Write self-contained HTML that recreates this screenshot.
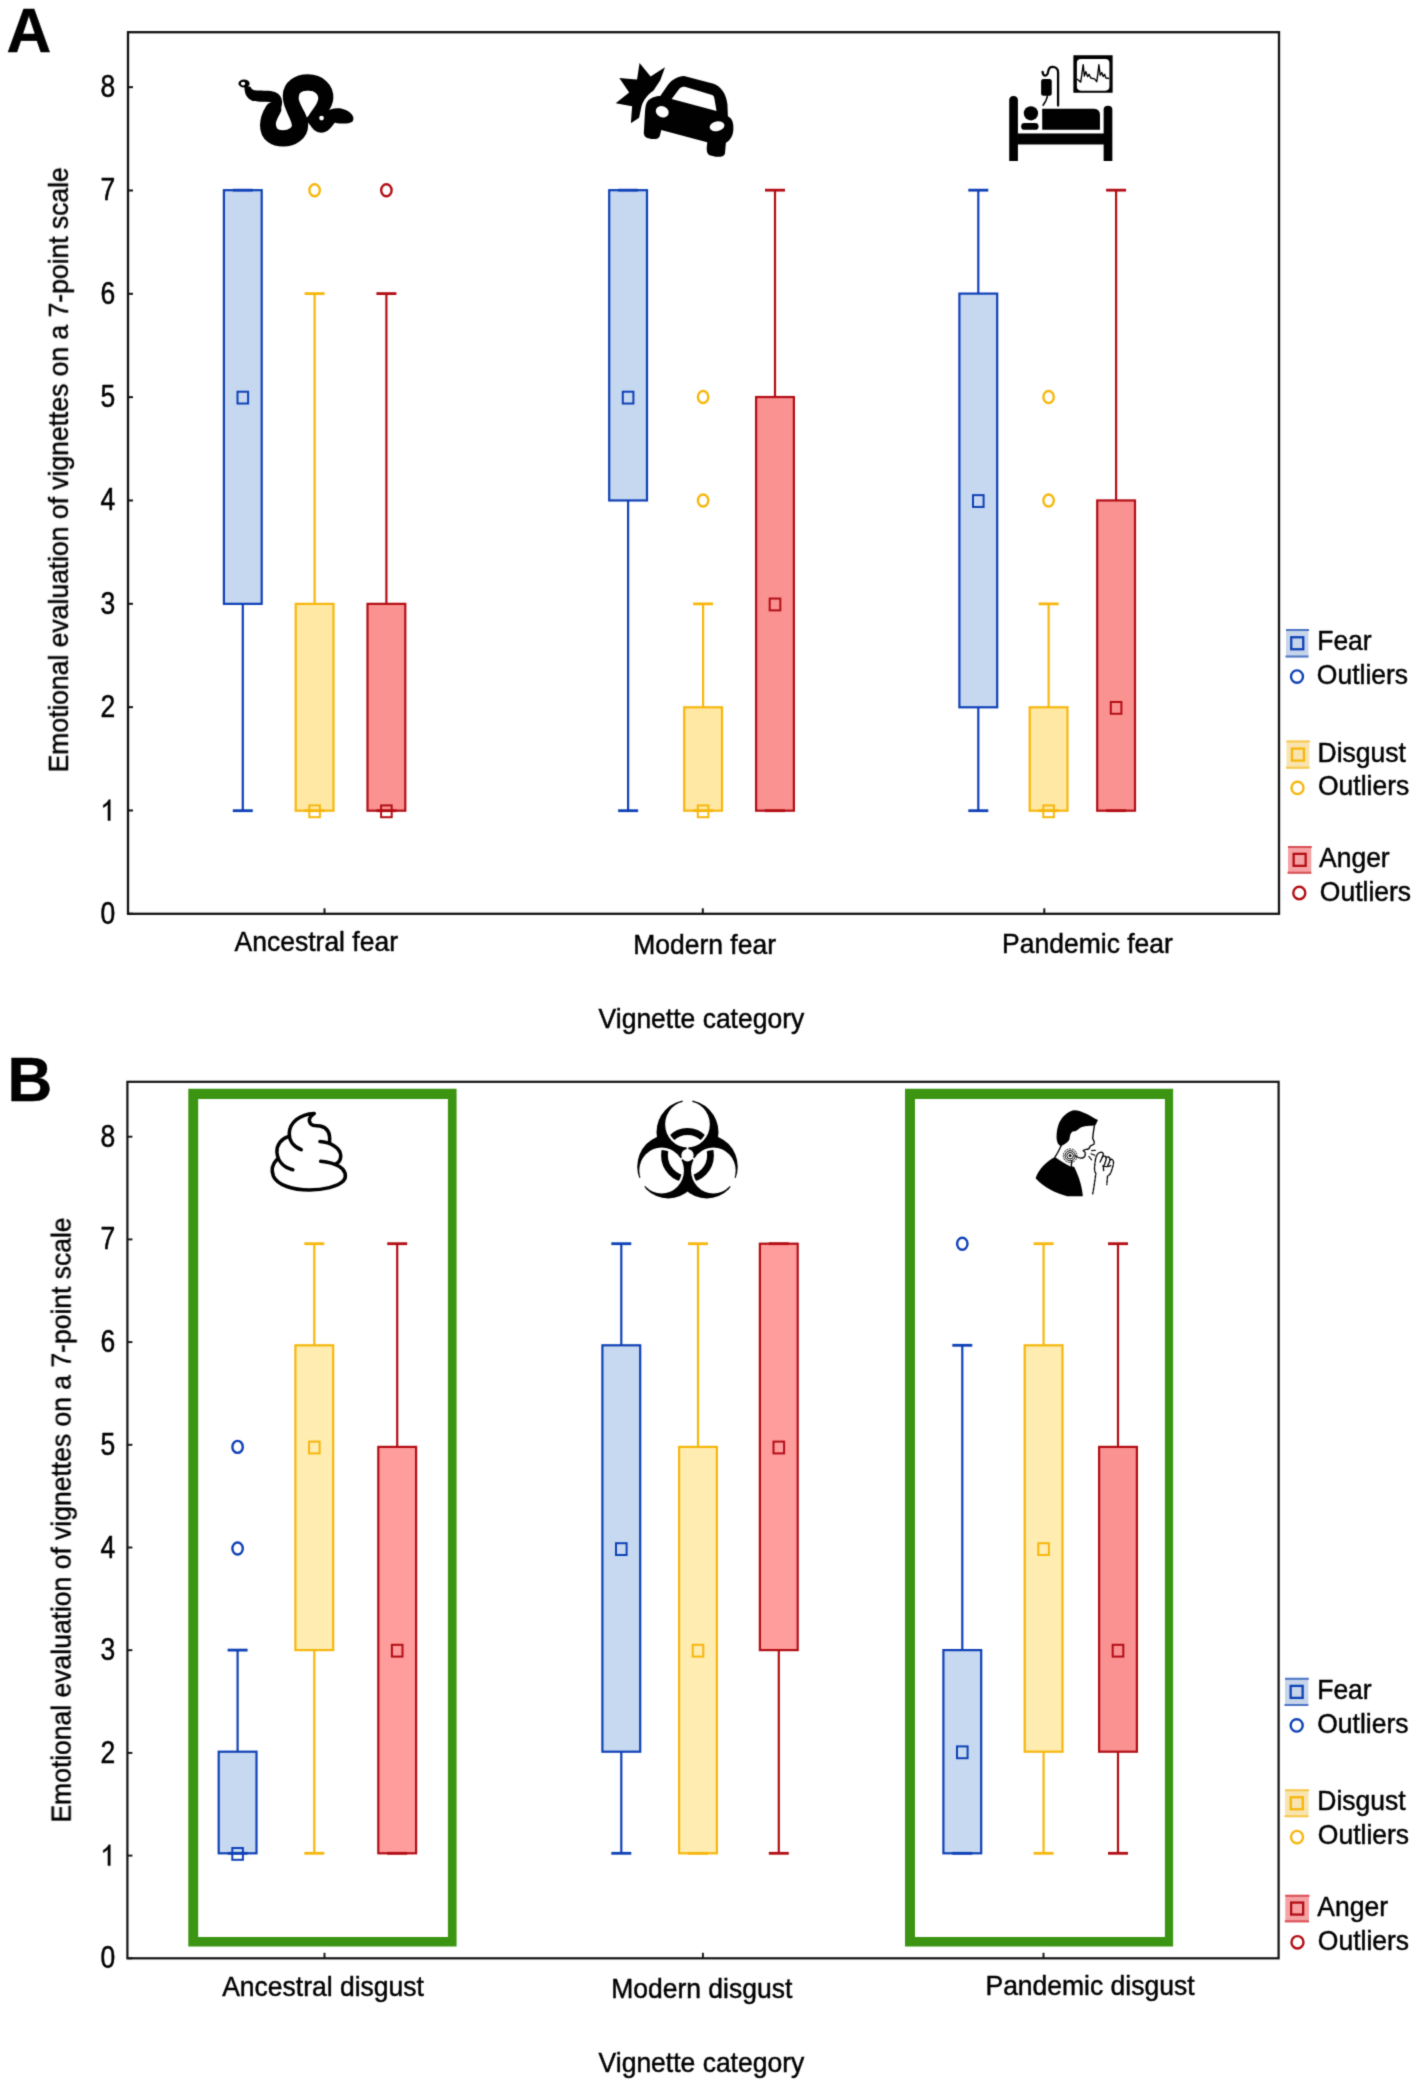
<!DOCTYPE html><html><head><meta charset="utf-8"><style>html,body{margin:0;padding:0;background:#fff;}svg{display:block;opacity:0.999;}text{stroke:#000;stroke-width:0.45px;}</style></head><body>
<svg width="1418" height="2086" viewBox="0 0 1418 2086" font-family="'Liberation Sans', sans-serif" font-size="26.5" fill="#000">
<defs><filter id="soft" x="0" y="0" width="1418" height="2086" filterUnits="userSpaceOnUse" color-interpolation-filters="sRGB"><feConvolveMatrix order="3" kernelMatrix="0.025 0.1 0.025 0.1 0.5 0.1 0.025 0.1 0.025" divisor="1" edgeMode="duplicate"/></filter></defs>
<rect width="1418" height="2086" fill="#fff"/>
<g filter="url(#soft)">
<text transform="translate(6.4,51.6) scale(1,1.025)" font-weight="bold" font-size="62">A</text>
<rect x="128" y="32.2" width="1151" height="881.6" fill="none" stroke="#111" stroke-width="2.3"/>
<line x1="128" y1="913.8" x2="133" y2="913.8" stroke="#111" stroke-width="2"/>
<text transform="translate(115.3,923.8) scale(1,1.15)" text-anchor="end">0</text>
<line x1="128" y1="810.47" x2="133" y2="810.47" stroke="#111" stroke-width="2"/>
<path transform="translate(100.4,820.47) scale(0.01294,-0.0142)" stroke="#000" stroke-width="0.45" vector-effect="non-scaling-stroke" d="M763 0L583 0L583 1147C518 1085 432 1025 337 969C290 941 250 921 223 910L223 1084C320 1130 410 1190 480 1255C560 1330 615 1400 644 1466L763 1466Z"/>
<line x1="128" y1="707.14" x2="133" y2="707.14" stroke="#111" stroke-width="2"/>
<text transform="translate(115.3,717.14) scale(1,1.15)" text-anchor="end">2</text>
<line x1="128" y1="603.81" x2="133" y2="603.81" stroke="#111" stroke-width="2"/>
<text transform="translate(115.3,613.81) scale(1,1.15)" text-anchor="end">3</text>
<line x1="128" y1="500.48" x2="133" y2="500.48" stroke="#111" stroke-width="2"/>
<text transform="translate(115.3,510.48) scale(1,1.15)" text-anchor="end">4</text>
<line x1="128" y1="397.15" x2="133" y2="397.15" stroke="#111" stroke-width="2"/>
<text transform="translate(115.3,407.15) scale(1,1.15)" text-anchor="end">5</text>
<line x1="128" y1="293.82" x2="133" y2="293.82" stroke="#111" stroke-width="2"/>
<text transform="translate(115.3,303.82) scale(1,1.15)" text-anchor="end">6</text>
<line x1="128" y1="190.49" x2="133" y2="190.49" stroke="#111" stroke-width="2"/>
<text transform="translate(115.3,200.49) scale(1,1.15)" text-anchor="end">7</text>
<line x1="128" y1="87.16" x2="133" y2="87.16" stroke="#111" stroke-width="2"/>
<text transform="translate(115.3,97.16) scale(1,1.15)" text-anchor="end">8</text>
<line x1="324.5" y1="913.8" x2="324.5" y2="908.3" stroke="#111" stroke-width="2"/>
<line x1="702.8" y1="913.8" x2="702.8" y2="908.3" stroke="#111" stroke-width="2"/>
<line x1="1044.3" y1="913.8" x2="1044.3" y2="908.3" stroke="#111" stroke-width="2"/>
<text transform="translate(316.3,950.9) scale(1,1.05)" text-anchor="middle">Ancestral fear</text>
<text transform="translate(704.6,953.7) scale(1,1.05)" text-anchor="middle">Modern fear</text>
<text transform="translate(1087.5,952.8) scale(1,1.05)" text-anchor="middle">Pandemic fear</text>
<text transform="translate(701.4,1028.4) scale(1,1.05)" text-anchor="middle">Vignette category</text>
<text transform="translate(68.2,469.8) rotate(-90) scale(1,1.05)" text-anchor="middle">Emotional evaluation of vignettes on a 7-point scale</text>
<line x1="242.8" y1="603.86" x2="242.8" y2="810.7" stroke="#0e40b6" stroke-width="2.2"/>
<rect x="223.9" y="190.18" width="37.8" height="413.68" fill="#c6d8f0" stroke="#0e40b6" stroke-width="2.2"/>
<line x1="232.8" y1="190.18" x2="252.8" y2="190.18" stroke="#0e40b6" stroke-width="2.8"/>
<line x1="232.8" y1="810.7" x2="252.8" y2="810.7" stroke="#0e40b6" stroke-width="2.8"/>
<rect x="237.5" y="391.72" width="10.6" height="11.8" fill="none" stroke="#0e40b6" stroke-width="2"/>
<line x1="314.6" y1="603.86" x2="314.6" y2="293.6" stroke="#f6b60c" stroke-width="2.2"/>
<rect x="295.7" y="603.86" width="37.8" height="206.84" fill="#ffe8a3" stroke="#f6b60c" stroke-width="2.2"/>
<line x1="304.6" y1="293.6" x2="324.6" y2="293.6" stroke="#f6b60c" stroke-width="2.8"/>
<line x1="304.6" y1="810.7" x2="324.6" y2="810.7" stroke="#f6b60c" stroke-width="2.8"/>
<rect x="309.3" y="805.4" width="10.6" height="11.8" fill="none" stroke="#f6b60c" stroke-width="2"/>
<ellipse cx="314.6" cy="190.18" rx="5.2" ry="6" fill="none" stroke="#f6b60c" stroke-width="2.4"/>
<line x1="386.4" y1="603.86" x2="386.4" y2="293.6" stroke="#b20d14" stroke-width="2.2"/>
<rect x="367.5" y="603.86" width="37.8" height="206.84" fill="#fa9292" stroke="#b20d14" stroke-width="2.2"/>
<line x1="376.4" y1="293.6" x2="396.4" y2="293.6" stroke="#b20d14" stroke-width="2.8"/>
<line x1="376.4" y1="810.7" x2="396.4" y2="810.7" stroke="#b20d14" stroke-width="2.8"/>
<rect x="381.1" y="805.4" width="10.6" height="11.8" fill="none" stroke="#b20d14" stroke-width="2"/>
<ellipse cx="386.4" cy="190.18" rx="5.2" ry="6" fill="none" stroke="#b20d14" stroke-width="2.4"/>
<line x1="628.1" y1="500.44" x2="628.1" y2="810.7" stroke="#0e40b6" stroke-width="2.2"/>
<rect x="609.2" y="190.18" width="37.8" height="310.26" fill="#c6d8f0" stroke="#0e40b6" stroke-width="2.2"/>
<line x1="618.1" y1="190.18" x2="638.1" y2="190.18" stroke="#0e40b6" stroke-width="2.8"/>
<line x1="618.1" y1="810.7" x2="638.1" y2="810.7" stroke="#0e40b6" stroke-width="2.8"/>
<rect x="622.8" y="391.72" width="10.6" height="11.8" fill="none" stroke="#0e40b6" stroke-width="2"/>
<line x1="703.1" y1="707.28" x2="703.1" y2="603.86" stroke="#f6b60c" stroke-width="2.2"/>
<rect x="684.2" y="707.28" width="37.8" height="103.42" fill="#ffe8a3" stroke="#f6b60c" stroke-width="2.2"/>
<line x1="693.1" y1="603.86" x2="713.1" y2="603.86" stroke="#f6b60c" stroke-width="2.8"/>
<line x1="693.1" y1="810.7" x2="713.1" y2="810.7" stroke="#f6b60c" stroke-width="2.8"/>
<rect x="697.8" y="805.4" width="10.6" height="11.8" fill="none" stroke="#f6b60c" stroke-width="2"/>
<ellipse cx="703.1" cy="500.44" rx="5.2" ry="6" fill="none" stroke="#f6b60c" stroke-width="2.4"/>
<ellipse cx="703.1" cy="397.02" rx="5.2" ry="6" fill="none" stroke="#f6b60c" stroke-width="2.4"/>
<line x1="775" y1="397.02" x2="775" y2="190.18" stroke="#b20d14" stroke-width="2.2"/>
<rect x="756.1" y="397.02" width="37.8" height="413.68" fill="#fa9292" stroke="#b20d14" stroke-width="2.2"/>
<line x1="765" y1="190.18" x2="785" y2="190.18" stroke="#b20d14" stroke-width="2.8"/>
<line x1="765" y1="810.7" x2="785" y2="810.7" stroke="#b20d14" stroke-width="2.8"/>
<rect x="769.7" y="598.56" width="10.6" height="11.8" fill="none" stroke="#b20d14" stroke-width="2"/>
<line x1="978.3" y1="293.6" x2="978.3" y2="190.18" stroke="#0e40b6" stroke-width="2.2"/>
<line x1="978.3" y1="707.28" x2="978.3" y2="810.7" stroke="#0e40b6" stroke-width="2.2"/>
<rect x="959.4" y="293.6" width="37.8" height="413.68" fill="#c6d8f0" stroke="#0e40b6" stroke-width="2.2"/>
<line x1="968.3" y1="190.18" x2="988.3" y2="190.18" stroke="#0e40b6" stroke-width="2.8"/>
<line x1="968.3" y1="810.7" x2="988.3" y2="810.7" stroke="#0e40b6" stroke-width="2.8"/>
<rect x="973" y="495.14" width="10.6" height="11.8" fill="none" stroke="#0e40b6" stroke-width="2"/>
<line x1="1048.6" y1="707.28" x2="1048.6" y2="603.86" stroke="#f6b60c" stroke-width="2.2"/>
<rect x="1029.7" y="707.28" width="37.8" height="103.42" fill="#ffe8a3" stroke="#f6b60c" stroke-width="2.2"/>
<line x1="1038.6" y1="603.86" x2="1058.6" y2="603.86" stroke="#f6b60c" stroke-width="2.8"/>
<line x1="1038.6" y1="810.7" x2="1058.6" y2="810.7" stroke="#f6b60c" stroke-width="2.8"/>
<rect x="1043.3" y="805.4" width="10.6" height="11.8" fill="none" stroke="#f6b60c" stroke-width="2"/>
<ellipse cx="1048.6" cy="500.44" rx="5.2" ry="6" fill="none" stroke="#f6b60c" stroke-width="2.4"/>
<ellipse cx="1048.6" cy="397.02" rx="5.2" ry="6" fill="none" stroke="#f6b60c" stroke-width="2.4"/>
<line x1="1116.1" y1="500.44" x2="1116.1" y2="190.18" stroke="#b20d14" stroke-width="2.2"/>
<rect x="1097.2" y="500.44" width="37.8" height="310.26" fill="#fa9292" stroke="#b20d14" stroke-width="2.2"/>
<line x1="1106.1" y1="190.18" x2="1126.1" y2="190.18" stroke="#b20d14" stroke-width="2.8"/>
<line x1="1106.1" y1="810.7" x2="1126.1" y2="810.7" stroke="#b20d14" stroke-width="2.8"/>
<rect x="1110.8" y="701.98" width="10.6" height="11.8" fill="none" stroke="#b20d14" stroke-width="2"/>
<rect x="1286" y="629" width="22.5" height="28.5" fill="#c7d5ea"/>
<line x1="1286" y1="630" x2="1309" y2="630" stroke="#4c74c4" stroke-width="2"/>
<line x1="1285.5" y1="656.5" x2="1308.5" y2="656.5" stroke="#4c74c4" stroke-width="2"/>
<rect x="1291.25" y="637.25" width="12" height="12" fill="none" stroke="#0e40b6" stroke-width="2.3"/>
<text transform="translate(1317.2,650.4) scale(1,1.05)">Fear</text>
<ellipse cx="1297" cy="676.6" rx="6" ry="6.2" fill="none" stroke="#0e40b6" stroke-width="2.4"/>
<text transform="translate(1316.8,683.8) scale(1,1.05)">Outliers</text>
<rect x="1286.5" y="740.5" width="22.9" height="28.2" fill="#f8e4b0"/>
<line x1="1286.5" y1="741.5" x2="1309.9" y2="741.5" stroke="#f6c84a" stroke-width="2"/>
<line x1="1286" y1="767.7" x2="1309.4" y2="767.7" stroke="#f6c84a" stroke-width="2"/>
<rect x="1291.95" y="748.6" width="12" height="12" fill="none" stroke="#f6b60c" stroke-width="2.3"/>
<text transform="translate(1317.6,761.9) scale(1,1.05)">Disgust</text>
<ellipse cx="1297.5" cy="787.9" rx="6" ry="6.2" fill="none" stroke="#f6b60c" stroke-width="2.4"/>
<text transform="translate(1318,795) scale(1,1.05)">Outliers</text>
<rect x="1288" y="846" width="23.3" height="27.7" fill="#f5a2a4"/>
<line x1="1288" y1="847" x2="1311.8" y2="847" stroke="#d85055" stroke-width="2"/>
<line x1="1287.5" y1="872.7" x2="1311.3" y2="872.7" stroke="#d85055" stroke-width="2"/>
<rect x="1293.65" y="853.85" width="12" height="12" fill="none" stroke="#b20d14" stroke-width="2.3"/>
<text transform="translate(1319,866.8) scale(1,1.05)">Anger</text>
<ellipse cx="1299.3" cy="893" rx="6" ry="6.2" fill="none" stroke="#b20d14" stroke-width="2.4"/>
<text transform="translate(1319.8,900.5) scale(1,1.05)">Outliers</text>
<text transform="translate(7.6,1100.7) scale(1,1.025)" font-weight="bold" font-size="62">B</text>
<rect x="127.4" y="1081.8" width="1151.2" height="876.5" fill="none" stroke="#111" stroke-width="2.2"/>
<line x1="127.4" y1="1958.3" x2="132.4" y2="1958.3" stroke="#111" stroke-width="1.9"/>
<text transform="translate(115.3,1968.3) scale(1,1.15)" text-anchor="end">0</text>
<line x1="127.4" y1="1855.6" x2="132.4" y2="1855.6" stroke="#111" stroke-width="1.9"/>
<path transform="translate(100.4,1865.6) scale(0.01294,-0.0142)" stroke="#000" stroke-width="0.45" vector-effect="non-scaling-stroke" d="M763 0L583 0L583 1147C518 1085 432 1025 337 969C290 941 250 921 223 910L223 1084C320 1130 410 1190 480 1255C560 1330 615 1400 644 1466L763 1466Z"/>
<line x1="127.4" y1="1752.9" x2="132.4" y2="1752.9" stroke="#111" stroke-width="1.9"/>
<text transform="translate(115.3,1762.9) scale(1,1.15)" text-anchor="end">2</text>
<line x1="127.4" y1="1650.2" x2="132.4" y2="1650.2" stroke="#111" stroke-width="1.9"/>
<text transform="translate(115.3,1660.2) scale(1,1.15)" text-anchor="end">3</text>
<line x1="127.4" y1="1547.5" x2="132.4" y2="1547.5" stroke="#111" stroke-width="1.9"/>
<text transform="translate(115.3,1557.5) scale(1,1.15)" text-anchor="end">4</text>
<line x1="127.4" y1="1444.8" x2="132.4" y2="1444.8" stroke="#111" stroke-width="1.9"/>
<text transform="translate(115.3,1454.8) scale(1,1.15)" text-anchor="end">5</text>
<line x1="127.4" y1="1342.1" x2="132.4" y2="1342.1" stroke="#111" stroke-width="1.9"/>
<text transform="translate(115.3,1352.1) scale(1,1.15)" text-anchor="end">6</text>
<line x1="127.4" y1="1239.4" x2="132.4" y2="1239.4" stroke="#111" stroke-width="1.9"/>
<text transform="translate(115.3,1249.4) scale(1,1.15)" text-anchor="end">7</text>
<line x1="127.4" y1="1136.7" x2="132.4" y2="1136.7" stroke="#111" stroke-width="1.9"/>
<text transform="translate(115.3,1146.7) scale(1,1.15)" text-anchor="end">8</text>
<line x1="324.5" y1="1958.3" x2="324.5" y2="1952.8" stroke="#111" stroke-width="1.9"/>
<line x1="702.9" y1="1958.3" x2="702.9" y2="1952.8" stroke="#111" stroke-width="1.9"/>
<line x1="1043.5" y1="1958.3" x2="1043.5" y2="1952.8" stroke="#111" stroke-width="1.9"/>
<text transform="translate(323,1996.3) scale(1,1.05)" text-anchor="middle">Ancestral disgust</text>
<text transform="translate(701.7,1997.6) scale(1,1.05)" text-anchor="middle">Modern disgust</text>
<text transform="translate(1090,1995.2) scale(1,1.05)" text-anchor="middle">Pandemic disgust</text>
<text transform="translate(701.4,2072.2) scale(1,1.05)" text-anchor="middle">Vignette category</text>
<text transform="translate(70.9,1520) rotate(-90) scale(1,1.05)" text-anchor="middle">Emotional evaluation of vignettes on a 7-point scale</text>
<path d="M188.3 1088.8H456.6V1946.6H188.3ZM198.2 1098.9V1937H447.9V1098.9Z" fill="#3b9512" fill-rule="evenodd"/>
<path d="M905 1088.8H1173.1V1946.6H905ZM915 1098.9V1937H1164.9V1098.9Z" fill="#3b9512" fill-rule="evenodd"/>
<line x1="237.6" y1="1751.7" x2="237.6" y2="1650.1" stroke="#0e40b6" stroke-width="2.2"/>
<rect x="218.7" y="1751.7" width="37.8" height="101.6" fill="#c6d9f0" stroke="#0e40b6" stroke-width="2.2"/>
<line x1="227.6" y1="1650.1" x2="247.6" y2="1650.1" stroke="#0e40b6" stroke-width="2.8"/>
<line x1="227.6" y1="1853.3" x2="247.6" y2="1853.3" stroke="#0e40b6" stroke-width="2.8"/>
<rect x="232.3" y="1848" width="10.6" height="11.8" fill="none" stroke="#0e40b6" stroke-width="2"/>
<ellipse cx="237.6" cy="1548.5" rx="5.2" ry="6" fill="none" stroke="#0e40b6" stroke-width="2.4"/>
<ellipse cx="237.6" cy="1446.9" rx="5.2" ry="6" fill="none" stroke="#0e40b6" stroke-width="2.4"/>
<line x1="314.3" y1="1345.3" x2="314.3" y2="1243.7" stroke="#f6b60c" stroke-width="2.2"/>
<line x1="314.3" y1="1650.1" x2="314.3" y2="1853.3" stroke="#f6b60c" stroke-width="2.2"/>
<rect x="295.4" y="1345.3" width="37.8" height="304.8" fill="#feecb0" stroke="#f6b60c" stroke-width="2.2"/>
<line x1="304.3" y1="1243.7" x2="324.3" y2="1243.7" stroke="#f6b60c" stroke-width="2.8"/>
<line x1="304.3" y1="1853.3" x2="324.3" y2="1853.3" stroke="#f6b60c" stroke-width="2.8"/>
<rect x="309" y="1441.6" width="10.6" height="11.8" fill="none" stroke="#f6b60c" stroke-width="2"/>
<line x1="397.2" y1="1446.9" x2="397.2" y2="1243.7" stroke="#b20d14" stroke-width="2.2"/>
<rect x="378.3" y="1446.9" width="37.8" height="406.4" fill="#ff9c9c" stroke="#b20d14" stroke-width="2.2"/>
<line x1="387.2" y1="1243.7" x2="407.2" y2="1243.7" stroke="#b20d14" stroke-width="2.8"/>
<line x1="387.2" y1="1853.3" x2="407.2" y2="1853.3" stroke="#b20d14" stroke-width="2.8"/>
<rect x="391.9" y="1644.8" width="10.6" height="11.8" fill="none" stroke="#b20d14" stroke-width="2"/>
<line x1="621.3" y1="1345.3" x2="621.3" y2="1243.7" stroke="#0e40b6" stroke-width="2.2"/>
<line x1="621.3" y1="1751.7" x2="621.3" y2="1853.3" stroke="#0e40b6" stroke-width="2.2"/>
<rect x="602.4" y="1345.3" width="37.8" height="406.4" fill="#c6d9f0" stroke="#0e40b6" stroke-width="2.2"/>
<line x1="611.3" y1="1243.7" x2="631.3" y2="1243.7" stroke="#0e40b6" stroke-width="2.8"/>
<line x1="611.3" y1="1853.3" x2="631.3" y2="1853.3" stroke="#0e40b6" stroke-width="2.8"/>
<rect x="616" y="1543.2" width="10.6" height="11.8" fill="none" stroke="#0e40b6" stroke-width="2"/>
<line x1="698" y1="1446.9" x2="698" y2="1243.7" stroke="#f6b60c" stroke-width="2.2"/>
<rect x="679.1" y="1446.9" width="37.8" height="406.4" fill="#feecb0" stroke="#f6b60c" stroke-width="2.2"/>
<line x1="688" y1="1243.7" x2="708" y2="1243.7" stroke="#f6b60c" stroke-width="2.8"/>
<line x1="688" y1="1853.3" x2="708" y2="1853.3" stroke="#f6b60c" stroke-width="2.8"/>
<rect x="692.7" y="1644.8" width="10.6" height="11.8" fill="none" stroke="#f6b60c" stroke-width="2"/>
<line x1="778.8" y1="1650.1" x2="778.8" y2="1853.3" stroke="#b20d14" stroke-width="2.2"/>
<rect x="759.9" y="1243.7" width="37.8" height="406.4" fill="#ff9c9c" stroke="#b20d14" stroke-width="2.2"/>
<line x1="768.8" y1="1243.7" x2="788.8" y2="1243.7" stroke="#b20d14" stroke-width="2.8"/>
<line x1="768.8" y1="1853.3" x2="788.8" y2="1853.3" stroke="#b20d14" stroke-width="2.8"/>
<rect x="773.5" y="1441.6" width="10.6" height="11.8" fill="none" stroke="#b20d14" stroke-width="2"/>
<line x1="962.3" y1="1650.1" x2="962.3" y2="1345.3" stroke="#0e40b6" stroke-width="2.2"/>
<rect x="943.4" y="1650.1" width="37.8" height="203.2" fill="#c6d9f0" stroke="#0e40b6" stroke-width="2.2"/>
<line x1="952.3" y1="1345.3" x2="972.3" y2="1345.3" stroke="#0e40b6" stroke-width="2.8"/>
<line x1="952.3" y1="1853.3" x2="972.3" y2="1853.3" stroke="#0e40b6" stroke-width="2.8"/>
<rect x="957" y="1746.4" width="10.6" height="11.8" fill="none" stroke="#0e40b6" stroke-width="2"/>
<ellipse cx="962.3" cy="1243.7" rx="5.2" ry="6" fill="none" stroke="#0e40b6" stroke-width="2.4"/>
<line x1="1043.6" y1="1345.3" x2="1043.6" y2="1243.7" stroke="#f6b60c" stroke-width="2.2"/>
<line x1="1043.6" y1="1751.7" x2="1043.6" y2="1853.3" stroke="#f6b60c" stroke-width="2.2"/>
<rect x="1024.7" y="1345.3" width="37.8" height="406.4" fill="#feecb0" stroke="#f6b60c" stroke-width="2.2"/>
<line x1="1033.6" y1="1243.7" x2="1053.6" y2="1243.7" stroke="#f6b60c" stroke-width="2.8"/>
<line x1="1033.6" y1="1853.3" x2="1053.6" y2="1853.3" stroke="#f6b60c" stroke-width="2.8"/>
<rect x="1038.3" y="1543.2" width="10.6" height="11.8" fill="none" stroke="#f6b60c" stroke-width="2"/>
<line x1="1118" y1="1446.9" x2="1118" y2="1243.7" stroke="#b20d14" stroke-width="2.2"/>
<line x1="1118" y1="1751.7" x2="1118" y2="1853.3" stroke="#b20d14" stroke-width="2.2"/>
<rect x="1099.1" y="1446.9" width="37.8" height="304.8" fill="#fa9292" stroke="#b20d14" stroke-width="2.2"/>
<line x1="1108" y1="1243.7" x2="1128" y2="1243.7" stroke="#b20d14" stroke-width="2.8"/>
<line x1="1108" y1="1853.3" x2="1128" y2="1853.3" stroke="#b20d14" stroke-width="2.8"/>
<rect x="1112.7" y="1644.8" width="10.6" height="11.8" fill="none" stroke="#b20d14" stroke-width="2"/>
<rect x="1285" y="1677.8" width="23.3" height="28.2" fill="#c7d5ea"/>
<line x1="1285" y1="1678.8" x2="1308.8" y2="1678.8" stroke="#4c74c4" stroke-width="2"/>
<line x1="1284.5" y1="1705" x2="1308.3" y2="1705" stroke="#4c74c4" stroke-width="2"/>
<rect x="1290.65" y="1685.9" width="12" height="12" fill="none" stroke="#0e40b6" stroke-width="2.3"/>
<text transform="translate(1317.2,1699.4) scale(1,1.05)">Fear</text>
<ellipse cx="1296.7" cy="1725.4" rx="6" ry="6.2" fill="none" stroke="#0e40b6" stroke-width="2.4"/>
<text transform="translate(1317.2,1732.5) scale(1,1.05)">Outliers</text>
<rect x="1285" y="1789.3" width="23.6" height="27.9" fill="#f8e4b0"/>
<line x1="1285" y1="1790.3" x2="1309.1" y2="1790.3" stroke="#f6c84a" stroke-width="2"/>
<line x1="1284.5" y1="1816.2" x2="1308.6" y2="1816.2" stroke="#f6c84a" stroke-width="2"/>
<rect x="1290.8" y="1797.25" width="12" height="12" fill="none" stroke="#f6b60c" stroke-width="2.3"/>
<text transform="translate(1317.3,1810.4) scale(1,1.05)">Disgust</text>
<ellipse cx="1297" cy="1837.1" rx="6" ry="6.2" fill="none" stroke="#f6b60c" stroke-width="2.4"/>
<text transform="translate(1317.8,1843.8) scale(1,1.05)">Outliers</text>
<rect x="1285.3" y="1894.8" width="23.7" height="27.5" fill="#f5a2a4"/>
<line x1="1285.3" y1="1895.8" x2="1309.5" y2="1895.8" stroke="#d85055" stroke-width="2"/>
<line x1="1284.8" y1="1921.3" x2="1309" y2="1921.3" stroke="#d85055" stroke-width="2"/>
<rect x="1291.15" y="1902.55" width="12" height="12" fill="none" stroke="#b20d14" stroke-width="2.3"/>
<text transform="translate(1317.3,1915.6) scale(1,1.05)">Anger</text>
<ellipse cx="1297.5" cy="1942.3" rx="6" ry="6.2" fill="none" stroke="#b20d14" stroke-width="2.4"/>
<text transform="translate(1317.8,1949.7) scale(1,1.05)">Outliers</text>
<g id="snake" transform="translate(225,60) scale(0.098717)" fill="none" stroke="#000" stroke-linecap="round" stroke-linejoin="round">
<path fill-rule="evenodd" fill="#000" stroke="none" d="M136 238 A57 41 0 1 0 250 238 A57 41 0 1 0 136 238 Z M161 239 A22 19 0 1 0 205 239 A22 19 0 1 0 161 239 Z"/>
<path d="M198 262 C193 330 215 390 280 415 C330 425 400 422 470 422 L470 315 C400 312 350 308 330 310 C290 312 265 298 258 272 Z" fill="#000" stroke="none"/>
<path d="M440 368 C500 368 528 390 524 440 C520 490 480 540 460 590" stroke-width="108"/>
<path d="M490 505 C455 560 437 600 437 660 C437 760 510 795 590 795 C680 795 760 740 760 660 C755 590 720 540 705 500 C690 460 665 420 668 360 C670 280 740 228 840 228 C950 228 1020 300 1015 385 C1010 470 930 520 910 590" stroke-width="165"/>
<circle cx="668" cy="362" r="82" fill="#000" stroke="none"/>
<path d="M905 580 C895 660 960 705 1010 672 C1050 645 1060 600 1100 578" stroke-width="105"/>
<path d="M1010 540 C1060 490 1150 470 1230 510 C1290 540 1320 590 1290 625 C1250 650 1150 650 1080 625 Z" fill="#000" stroke="none"/>
<circle cx="985" cy="590" r="62" fill="#000" stroke="none"/>
<g fill="#fff" stroke="none">
<path d="M586 486 C570 520 540 570 522 615 C508 650 515 690 560 697 C610 703 660 685 660 645 C660 610 625 540 586 486 Z"/>
<path d="M836 580 C810 530 760 450 748 400 C738 350 780 312 840 311 C905 310 945 345 945 385 C945 440 880 510 836 580 Z"/>
<circle cx="978" cy="588" r="24"/>
</g>
</g>
<g id="car" transform="translate(605,55) scale(0.098717)" fill="#000">
<path fill-rule="evenodd" d="M430 470 C460 430 520 415 560 415 L640 300 C680 245 740 215 800 212 L1100 290 C1180 320 1230 400 1240 500 L1245 620 C1290 640 1305 690 1300 760 C1295 830 1260 870 1225 890 L1215 1000 C1205 1030 1160 1035 1120 1030 L1060 1015 C1030 1000 1025 960 1035 900 L1035 885 L570 760 L555 820 C545 850 510 855 470 850 L430 840 C395 830 390 800 395 760 L405 580 C410 520 415 490 430 470 Z M675 445 L755 340 C770 325 790 320 810 322 L1085 405 C1100 410 1105 425 1108 440 L1130 568 Z"/>
<ellipse cx="580" cy="575" rx="68" ry="56" transform="rotate(25 580 575)" fill="#fff"/>
<ellipse cx="1135" cy="722" rx="76" ry="50" transform="rotate(-12 1135 722)" fill="#fff"/>
<path d="M350 82 L462 218 L608 125 L560 255 L490 362 C440 395 390 450 370 520 L345 635 L262 692 L275 520 L108 488 L245 380 L145 232 L325 248 Z"/>
</g>
<g id="bed" transform="translate(995,45) scale(0.091677)" fill="#000">
<path d="M155 1265 L155 600 Q155 558 202 555 Q250 558 250 600 L250 1265 Z"/>
<path d="M1185 1265 L1185 705 Q1185 665 1232 663 Q1280 665 1280 705 L1280 1265 Z"/>
<rect x="245" y="965" width="945" height="120"/>
<circle cx="392" cy="745" r="78"/>
<rect x="285" y="850" width="190" height="75" rx="37"/>
<path d="M515 695 L1080 695 Q1145 700 1145 760 L1145 925 L515 925 Z"/>
<path d="M688 660 L688 300 C688 262 662 238 628 238 C600 238 586 256 581 285 C576 315 566 334 549 334 C531 334 521 316 519 293" fill="none" stroke="#000" stroke-width="25" stroke-linecap="round"/>
<rect x="503" y="372" width="116" height="182" rx="24"/>
<path d="M575 545 C565 600 540 640 520 662" fill="none" stroke="#000" stroke-width="16"/>
<path fill-rule="evenodd" d="M855 113 H1283 V522 H855 Z M938 152 H1203 Q1248 152 1248 197 V453 Q1248 498 1203 498 H938 Q893 498 893 453 V197 Q893 152 938 152 Z"/>
<path d="M895 370 L935 405 L950 300 L962 215 L975 340 L990 290 L1010 345 L1025 320 L1045 360 L1085 370 L1110 400 L1125 290 L1133 215 L1148 330 L1165 300 L1180 345 L1195 320 L1210 360 L1245 365" fill="none" stroke="#000" stroke-width="15" stroke-linejoin="round"/>
</g>
<g id="poop" transform="translate(260,1100) scale(0.070522)" fill="none" stroke="#000" stroke-width="50" stroke-linecap="round" stroke-linejoin="round">
<path d="M585 705 C470 660 410 570 415 470 C420 320 560 200 770 190 C700 230 680 290 720 340 C760 380 800 360 850 370 C950 390 1000 470 985 600"/>
<path d="M400 520 C300 550 235 640 240 740 C250 870 340 960 465 990"/>
<path d="M850 590 C1000 600 1140 680 1145 790 C1145 850 1110 890 1075 905"/>
<path d="M240 845 C175 910 160 1000 190 1080 C250 1210 470 1275 700 1275 C900 1275 1100 1230 1180 1150 C1240 1080 1210 990 1120 940 C1050 900 950 880 860 870"/>
</g>
<g id="bio" transform="translate(628,1095) scale(0.084626,0.0872)">
<defs>
<mask id="bioM" maskUnits="userSpaceOnUse" x="-200" y="-200" width="1800" height="1700">
<rect x="-200" y="-200" width="1800" height="1700" fill="#000"/>
<g fill="#fff">
<circle cx="703.0" cy="427.0" r="366"/>
<circle cx="930.8" cy="821.5" r="366"/>
<circle cx="475.2" cy="821.5" r="366"/>
</g>
<g fill="#000">
<circle cx="703.0" cy="337.0" r="264"/>
<circle cx="1008.7" cy="866.5" r="264"/>
<circle cx="397.3" cy="866.5" r="264"/>
<circle cx="703" cy="690" r="72"/>
<rect x="693" y="550" width="20" height="140"/>
<rect x="693" y="550" width="20" height="140" transform="rotate(120 703 690)"/>
<rect x="693" y="550" width="20" height="140" transform="rotate(240 703 690)"/>
<polygon points="663.8,241.7 611.9,-255.6 794.1,-255.6 742.2,241.7"/>
<polygon points="1110.8,880.2 1567.5,1084.0 1476.4,1241.7 1071.6,948.1"/>
<polygon points="334.4,948.1 -70.4,1241.7 -161.5,1084.0 295.2,880.2"/>
</g>
</mask>
<mask id="ringM" maskUnits="userSpaceOnUse" x="-200" y="-200" width="1800" height="1700">
<rect x="-200" y="-200" width="1800" height="1700" fill="#000"/>
<g fill="#fff">
<circle cx="703.0" cy="337.0" r="237"/>
<circle cx="1008.7" cy="866.5" r="237"/>
<circle cx="397.3" cy="866.5" r="237"/>
</g>
</mask>
</defs>
<rect x="-200" y="-200" width="1800" height="1700" fill="#000" mask="url(#bioM)"/>
<circle cx="703" cy="690" r="272" fill="none" stroke="#000" stroke-width="80" mask="url(#ringM)"/>
</g>
<g id="cough" transform="translate(1025,1100) scale(0.070522)" fill="#000">
<path d="M450 560 C440 380 500 200 690 145 C800 140 930 230 1035 285 L1000 355 L950 365 C850 365 780 380 740 430 L700 445 C660 440 640 480 630 560 C610 600 560 630 510 655 C470 640 455 600 450 560 Z"/>
<path d="M425 810 C320 860 200 970 150 1110 C250 1230 450 1330 600 1365 L820 1365 C810 1250 780 1120 700 955 C690 940 660 945 650 945 C560 905 480 850 425 810 Z"/>
<g fill="none" stroke="#000" stroke-width="19" stroke-linecap="round" stroke-linejoin="round">
<path d="M665 860 L655 945"/>
<path d="M985 355 C975 420 965 480 960 545 C975 580 995 600 980 625 C960 640 930 640 920 660 C915 690 900 700 870 700 C850 705 830 710 825 718 C840 728 860 730 855 770 C850 810 820 825 790 825 C750 820 725 800 710 790"/>
<path d="M512 650 C490 700 460 760 425 810"/>
<path d="M945 718 L1000 712 M935 762 L990 785 M905 800 L945 850" stroke-width="15"/>
<path d="M1000 840 C1010 780 1040 742 1080 738 C1110 738 1120 765 1100 805 L1065 880"/>
<path d="M1095 810 C1110 790 1140 790 1150 810 C1160 835 1140 880 1125 920"/>
<path d="M1150 820 C1165 800 1200 805 1205 830 C1210 860 1190 900 1170 935"/>
<path d="M1205 845 C1225 835 1255 845 1255 880 C1255 920 1240 960 1230 990 C1220 1040 1200 1060 1170 1080 L1160 1200" stroke-dasharray="40 18"/>
<path d="M1000 840 C985 950 975 1000 1005 1040 C990 1150 975 1250 960 1330" stroke-dasharray="40 18"/>
<path d="M1105 930 C1130 950 1180 950 1215 930"/>
<path d="M1110 940 L1115 1000"/>
</g>
<circle cx="640" cy="790" r="20"/>
<g fill="none" stroke="#000" stroke-width="14">
<circle cx="640" cy="790" r="46"/>
<circle cx="640" cy="790" r="72"/>
<circle cx="640" cy="790" r="97" stroke-dasharray="26 14"/>
</g>
</g>

</g></svg></body></html>
